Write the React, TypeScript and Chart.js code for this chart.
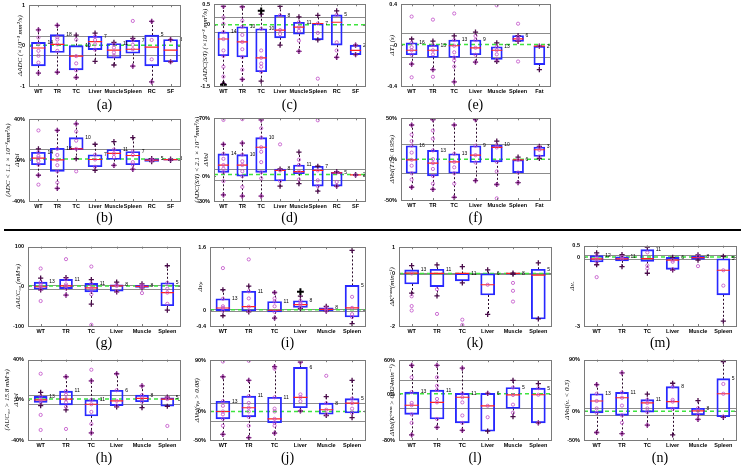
import React, { useEffect, useRef } from "react";
import { Chart, registerables } from "chart.js";
Chart.register(...registerables);

// ---------- categories ----------
const cats8 = ["WT", "TR", "TC", "Liver", "Muscle", "Spleen", "RC", "SF"];
const cats7 = ["WT", "TR", "TC", "Liver", "Muscle", "Spleen", "Fat"];
const cats6 = ["WT", "TR", "TC", "Liver", "Muscle", "Spleen"];

// ---------- data: box rows are [low whisker, q1, median, q3, high whisker] ----------
const aBox = [[-0.68, -0.5, -0.06, 0.08, 0.39], [-0.66, -0.17, 0.03, 0.27, 0.5], [-0.79, -0.6, -0.26, 0.0, 0.26], [-0.39, -0.1, 0.1, 0.23, 0.31], [-0.48, -0.31, -0.11, 0.05, 0.08], [-0.51, -0.19, -0.09, 0.13, 0.18], [-0.9, -0.5, -0.04, 0.26, 0.6], [-0.4, -0.4, -0.11, 0.15, 0.15]];
const aN = [14, 18, 10, 7, 11, 7, 5, 3];
const aPts = [[0.39, 0.2, 0.03, -0.13, -0.25, -0.42, -0.68], [0.5, 0.21, 0.15, 0.03, -0.13, -0.66], [0.15, -0.26, -0.44, -0.61, -0.79], [0.23, 0.14, 0.03, -0.1], [0.03, -0.05, -0.17, -0.25], [0.61, 0.13, 0.02, -0.09, -0.51], [0.6, 0.14, -0.34, -0.9], [0.15, -0.4]];

const bBox = [[-14.8, -4.5, 2, 7.7, 11], [-27.7, -11, 0.3, 11.6, 29], [1.3, 10.3, 11, 22, 35.5], [-10, -6.5, 0.6, 5.2, 15.5], [-5.2, 0.6, 6.5, 10.3, 18], [-9, -4.5, 4.5, 8.4, 22], [-1.5, -1.3, 0, 1.3, 1.5], [-0.3, 0, 0.5, 1, 1]];
const bN = [14, 18, 10, 7, 11, 7, 5, 3];
const bPts = [[29, 7.7, 4, 2, -1, -4.5, -14.8, -24], [29, 11, 5, 0.3, -5, -11, -22, -27.7], [35.5, 28, 19, 11, -11], [5.2, 0.6, -6.5], [10.3, 6.5, 3, -5.2], [8.4, 5, -2, -4.5, -9], [0.5, -0.5], [0.3]];

const cBox = [[-1.44, -0.76, -0.35, -0.18, 0.45], [-1.34, -0.79, -0.42, -0.05, 0.44], [-1.38, -1.15, -0.81, -0.1, 0.26], [-0.5, -0.32, -0.13, 0.23, 0.45], [-0.65, -0.23, -0.06, 0.06, 0.19], [-0.37, -0.37, 0.03, 0.03, 0.23], [-0.8, -0.5, 0.06, 0.24, 0.34], [-0.73, -0.73, -0.63, -0.5, -0.5]];
const cN = [14, 10, 10, 8, 11, 7, 5, 2];
const cPts = [[0.45, 0.18, 0.02, -0.18, -0.35, -0.63, -0.76, -1.03, -1.27, -1.44], [0.44, 0.1, -0.05, -0.25, -0.42, -0.6, -0.79, -1.1, -1.34], [-0.1, -0.63, -0.81, -0.95, -1.03, -1.15], [0.23, -0.13, -0.23], [0.06, -0.06, -0.15, -0.39, -0.65], [0.03, -0.2, -1.32], [0.24, -0.43, -0.63, -0.8], [-0.5, -0.73]];
const cOut = [[-1.47], [], [0.34], [], [], [], [], []];

const dBox = [[-22.7, 4.7, 13.5, 27, 38.5], [-24, 0, 13.5, 26, 40], [-24, 4.7, 35, 46.6, 68], [-12, -5.8, 7, 8.7, 8.7], [-9, 3, 5.5, 13.5, 29], [-18, -12, 7, 12, 12], [-12, -12, 3.9, 4.7, 5.5], [1.5, 1.5, 1.5, 1.5, 1.5]];
const dN = [14, 10, 10, 8, 11, 7, 5, 2];
const dPts = [[68, 38.5, 27, 21, 13.5, 9, 4.7, -6, -22.7], [69, 40, 26, 18, 13.5, 6, 0, -13, -24], [68, 58, 46.6, 35, 29.5, 17, 4.7, -2.6, -24], [38.5, 7, -5.8], [20, 13.5, 5.5, -4], [67.6, 7, -5, -12], [4.7, -7, -12], [1.5]];

const eBox = [[-0.185, -0.094, -0.05, 0.023, 0.06], [-0.24, -0.12, -0.05, 0, 0.04], [-0.36, -0.12, -0.006, 0.05, 0.09], [-0.166, -0.094, -0.026, 0.05, 0.127], [-0.16, -0.14, -0.05, -0.016, 0.023], [0.036, 0.036, 0.062, 0.094, 0.094], [-0.24, -0.19, -0.01, -0.01, -0.01]];
const eN = [16, 13, 13, 9, 13, 6, 2];
const ePts = [[0.28, 0.023, -0.02, -0.05, -0.094, -0.185, -0.315], [0.25, 0, -0.05, -0.09, -0.24, -0.31], [0.31, 0.05, -0.006, -0.07, -0.12, -0.15, -0.21, -0.36], [0.09, 0.05, -0.026, -0.094, -0.166], [0.39, -0.016, -0.05, -0.09, -0.14], [0.21, 0.08, 0.062, 0.045, -0.16], [-0.01]];

const fBox = [[-34.4, -17.2, -0.8, 16.4, 41.8], [-36.9, -20.5, -4.9, 10.7, 48.4], [-46.7, -17.2, -3.3, 6.6, 41.8], [-26.2, -4.1, 4.9, 16.4, 48.4], [-31, -3.3, 14.3, 17.2, 22], [-28.7, -16.4, -0.8, -0.8, 2.5], [0.8, 3.3, 11.5, 14.8, 15.6]];
const fN = [16, 13, 13, 9, 10, 6, 3];
const fPts = [[41.8, 30, 22, 16.4, 8, -0.8, -8, -17.2, -25, -34.4], [48.4, 35, 25, 10.7, 0, -4.9, -12, -20.5, -30, -36.9], [41.8, 6.6, -3.3, -10, -17.2, -30, -46.7], [48.4, 16.4, 4.9, -4.1, -26.2], [17.2, 14.3, -3.3, -15, -31, -48], [-0.8, -16.4, -28.7], [14.8, 11.5, 3.3]];

const gBox = [[-9, -7.4, -1, 10.7, 20.7], [-22, -5.8, 1, 17.4, 22], [-45, -14, -4, 7.4, 17], [-14, -12.4, 1, 4, 10.7], [-4, -2.5, 0, 2.5, 6], [-60, -48.8, -15.7, 9, 52]];
const gN = [13, 11, 11, 8, 8, 5];
const gPts = [[45, 10.7, 3, -1, -7.4, -37], [68.6, 17.4, 5, 1, -5.8, -22], [50, 7.4, -4, -10, -20, -97], [4, 1, -12.4], [2.5, 0, -2.5, -17], [9, -6, -15.7, -44]];

const hBox = [[-5.7, -2.5, 0, 3.4, 7.4], [-10, -5, 0.8, 8.7, 23], [-33, -16, -4.4, 0, 19], [-7, -5.7, -1, 9.6, 26], [-7.7, -1.8, 1.5, 4.7, 14], [-6.4, -6.4, 0.8, 2, 2.8]];
const hN = [13, 11, 11, 6, 8, 5];
const hPts = [[26, 3.4, 0, -2.5, -15, -30], [23, 8.7, 5, 0.8, -2.5, -7, -29], [30, 19, 0, -4.4, -12, -24, -33], [26, 9.6, -1, -5.7], [14, 4.7, 1.5, -1.8], [2, 0.8, -26]];

const iBox = [[-0.14, -0.01, 0.057, 0.29, 0.52], [-0.04, -0.02, 0.09, 0.48, 0.61], [-0.2, -0.04, 0, 0.22, 0.45], [0.04, 0.07, 0.14, 0.24, 0.36], [-0.02, -0.02, 0.02, 0.06, 0.1], [-0.34, -0.17, 0.06, 0.63, 1.52]];
const iN = [13, 11, 11, 8, 8, 5];
const iPts = [[1.07, 0.29, 0.1, 0.057, -0.01], [1.29, 0.48, 0.3, 0.09, -0.02], [0.45, 0.3, 0.22, 0.1, -0.04, -0.2], [0.24, 0.18, 0.14, 0.07], [0.06, 0.02, -0.02], [0.34, 0.06, -0.1, -0.17]];
const iOut = [[], [], [], [0.47], [], []];

const jBox = [[-40, -12.9, 0, 18, 61], [-46, -9.4, 6.6, 27, 54.6], [-38, -19.7, -12.9, 24.9, 78.6], [0.9, 6.6, 24.9, 77.4, 86.6], [-7, -4.9, 3.1, 14.6, 26], [-10.6, -2.6, 14.6, 22.6, 54.6]];
const jN = [13, 11, 11, 6, 8, 5];
const jPts = [[87.7, 61, 18, 10, 0, -5, -12.9, -25, -40], [89, 54.6, 27, 15, 6.6, 0, -9.4, -25, -46], [78.6, 75, 24.9, 5, 0, -12.9, -19.7, -25, -38], [86.6, 30, 24.9, 18, 0.9], [62.6, 14.6, 3.1, -4.9], [22.6, 14.6, 5, -2.6]];

const kBox = [[-0.75, -0.4, 0.01, 0.135, 0.3], [-0.85, -0.5, 0, 0.16, 0.33], [-0.36, -0.28, 0, 0, 0.26], [-1.56, -0.82, -0.43, -0.01, 0.135], [-0.03, -0.03, 0, 0.01, 0.01], [-1.73, -1.73, -0.06, 0.16, 0.4]];
const kN = [13, 11, 11, 6, 8, 5];
const kPts = [[0, -0.87, -1.24, -1.41], [-0.6, -1.54], [-1.76, -1.96], [-0.43], [-0.36, -0.66, -1.07], []];

const lBox = [[-71, -35, -19, 4, 51], [-58, -43, -14, 7.4, 51], [-63, -50, -5, 1.7, 46], [-64.6, -64.6, -20, 1.7, 1.7], [-39, -24.6, -1, 12, 24.6], [-50, -50, -0.6, 10.9, 18.9]];
const lN = [13, 11, 11, 6, 5, 5];
const lPts = [[51, 30, 4, -15, -19, -35, -50, -71], [51, 30, 15, 7.4, -8, -14, -43, -58], [46, 1.7, -5, -14, -37, -50, -63], [1.7, -20, -40], [12, -1, -18, -32], [10.9, -0.6, -50]];

const mBox = [[-0.33, -0.21, -0.07, 0.07, 0.19], [-0.41, -0.16, -0.07, 0.01, 0.11], [-0.7, -0.19, -0.06, 0.33, 0.44], [-0.56, -0.53, -0.13, -0.01, -0.01], [-0.13, -0.1, -0.02, 0.04, 0.1], [-2.79, -1.64, -0.57, -0.07, 0.04]];
const mN = [12, 11, 11, 6, 8, 5];
const mPts = [[0.07, -0.07, -0.21, -0.87], [0.01, -0.07], [0.21, -0.36, -0.5], [-0.13, -0.2, -0.53], [0.04, -0.39], [-0.57, -1.24]];

const nBox = [[-36.9, -2.6, 18, 30.6, 46.6], [-39, -7, 23.7, 32.9, 67], [-24, -1.4, 14.6, 20.3, 30], [-41, 4.3, 16.9, 43, 48.9], [-14, -6, 0.9, 5.4, 18.6], [-10.6, -9.4, 30.6, 56.9, 86.6]];
const nN = [13, 11, 11, 8, 8, 5];
const nPts = [[46.6, 30.6, 18, 5, -2.6, -36.9], [67, 32.9, 23.7, 10, -7, -20, -39], [20.3, 14.6, 5, -1.4, -24], [43, 20, 16.9, 4.3], [5.4, 0.9, -6, -14], [47.7, 30.6, -9.4]];

// ---------- y-axis ticks ----------
const ticksA = [-1, 0, 1];
const ticksB = [-40, 0, 40];
const ticksC = [-1.5, 0, 0.5];
const ticksD = [-30, 0, 70];
const ticksE = [-0.4, 0, 0.4];
const ticksF = [-50, 0, 50];
const ticksG = [-100, 0, 100];
const ticksH = [-40, 0, 40];
const ticksI = [-0.4, 0, 1.6];
const ticksJ = [-50, 0, 90];
const ticksK = [-2, 0, 1];
const ticksL = [-80, 0, 60];
const ticksM = [-3, 0, 0.5];
const ticksN = [-50, 0, 90];

// reference lines [gray1, gray2], green
const refA = [0.24, -0.23], grnA = 0.01;
const refB = [11, -8.4], grnB = 1;
const refC = [0.18, -0.18], grnC = 0;
const refD = [8.7, -5], grnD = 2;
const refE = [0.12, -0.12], grnE = 0.006;
const refF = [18.8, -16.4], grnF = 0;
const refG = [4, -6], grnG = 1;
const refH = [4.7, -3.8], grnH = 0.8;
const refI = [0.04, -0.025], grnI = 0.01;
const refJ = [15.7, -16.3], grnJ = 0;
const refK = [0, -0.03], grnK = 0;
const refL = [24.6, -23.4], grnL = 1;
const refM = [0.1, -0.1], grnM = 0.01;
const refN = [6.6, -6], grnN = 0;

type Panel = {
  cats: string[]; box: number[][]; n: number[]; pts: number[][]; out?: number[][];
  ticks: number[]; pct?: boolean; ref: number[]; grn: number;
  title: string[]; titleX: number; L: number; T: number; R: number; B: number; bw: number;
  cap: string; capY: number;
};

const panels: Panel[] = [
  { cats: cats8, box: aBox, n: aN, pts: aPts, ticks: ticksA, ref: refA, grn: grnA, title: ["ΔADC (×10⁻³ mm²/s)"], titleX: 20, L: 29, T: 3, R: 180, B: 86, bw: 14, cap: "(a)", capY: 105 },
  { cats: cats8, box: bBox, n: bN, pts: bPts, ticks: ticksB, pct: true, ref: refB, grn: grnB, title: ["(ADC < 1.1 × 10⁻³mm²/s)", "ΔVol"], titleX: 8.5, L: 29, T: 117, R: 180, B: 201, bw: 14, cap: "(b)", capY: 218 },
  { cats: cats8, box: cBox, n: cN, pts: cPts, out: cOut, ticks: ticksC, ref: refC, grn: grnC, title: ["ΔADC(S/I) (×10⁻³ mm²/s)"], titleX: 205, L: 214, T: 3, R: 365, B: 86, bw: 11, cap: "(c)", capY: 105 },
  { cats: cats8, box: dBox, n: dN, pts: dPts, ticks: ticksD, pct: true, ref: refD, grn: grnD, title: ["(ADC(S/I) < 2.1 × 10⁻³mm²/s)", "ΔVol"], titleX: 197.5, L: 214, T: 117, R: 365, B: 201, bw: 11, cap: "(d)", capY: 218 },
  { cats: cats7, box: eBox, n: eN, pts: ePts, ticks: ticksE, ref: refE, grn: grnE, title: ["ΔT1 (s)"], titleX: 392, L: 401, T: 3, R: 550, B: 86, bw: 11, cap: "(e)", capY: 105 },
  { cats: cats7, box: fBox, n: fN, pts: fPts, ticks: ticksF, pct: true, ref: refF, grn: grnF, title: ["ΔVol(T1 < 0.95s)"], titleX: 392, L: 401, T: 117, R: 550, B: 200, bw: 11, cap: "(f)", capY: 218 },
  { cats: cats6, box: gBox, n: gN, pts: gPts, ticks: ticksG, ref: refG, grn: grnG, title: ["ΔAUC₆₀ (mM·s)"], titleX: 18, L: 28, T: 245, R: 180, B: 326, bw: 13, cap: "(g)", capY: 343 },
  { cats: cats6, box: hBox, n: hN, pts: hPts, ticks: ticksH, pct: true, ref: refH, grn: grnH, title: ["(AUC₆₀ > 15.8 mM·s)", "ΔVol"], titleX: 7.5, L: 28, T: 358, R: 180, B: 440, bw: 13, cap: "(h)", capY: 458 },
  { cats: cats6, box: iBox, n: iN, pts: iPts, out: iOut, ticks: ticksI, ref: refI, grn: grnI, title: ["Δvₚ"], titleX: 200, L: 210, T: 245, R: 365, B: 326, bw: 14, cap: "(i)", capY: 343 },
  { cats: cats6, box: jBox, n: jN, pts: jPts, ticks: ticksJ, pct: true, ref: refJ, grn: grnJ, title: ["ΔVol(vₚ > 0.08)"], titleX: 197, L: 210, T: 358, R: 365, B: 440, bw: 14, cap: "(j)", capY: 458 },
  { cats: cats6, box: kBox, n: kN, pts: kPts, ticks: ticksK, ref: refK, grn: grnK, title: ["ΔKᵗʳᵃⁿˢ(min⁻¹)"], titleX: 392, L: 399, T: 245, R: 551, B: 326, bw: 14, cap: "(k)", capY: 343 },
  { cats: cats6, box: lBox, n: lN, pts: lPts, ticks: ticksL, pct: true, ref: refL, grn: grnL, title: ["ΔVol(Kᵗʳᵃⁿˢ > 0.024min⁻¹)"], titleX: 392, L: 399, T: 358, R: 551, B: 440, bw: 14, cap: "(l)", capY: 458 },
  { cats: cats6, box: mBox, n: mN, pts: mPts, ticks: ticksM, ref: refM, grn: grnM, title: ["Δvₑ"], titleX: 572, L: 584, T: 244, R: 736, B: 326, bw: 13, cap: "(m)", capY: 343 },
  { cats: cats6, box: nBox, n: nN, pts: nPts, ticks: ticksN, pct: true, ref: refN, grn: grnN, title: ["ΔVol(vₑ < 0.3)"], titleX: 567, L: 584, T: 358, R: 736, B: 440, bw: 13, cap: "(n)", capY: 458 },
];

const YW = 34, PT = 6, PR = 14, XH = 12;
const TITLE_SIZE = 7;

function geom(p: Panel) {
  const left = p.L - YW;
  const top = p.T - PT;
  const w = YW + (p.R - p.L) + PR;
  const h = PT + (p.B - p.T) + XH;
  return { left, top, w, h };
}

function BoxPanel({ p }: { p: Panel }) {
  const ref = useRef<HTMLCanvasElement | null>(null);
  const g = geom(p);
  useEffect(() => {
    const cats = p.cats;
    const circles: any[] = [];
    p.pts.forEach((arr, i) => arr.forEach((v) => circles.push({ x: cats[i], y: v })));
    const meds = p.box.map((b, i) => ({ x: cats[i], y: b[2] }));
    const caps: any[] = [];
    p.box.forEach((b, i) => { caps.push({ x: cats[i], y: b[0] }); caps.push({ x: cats[i], y: b[4] }); });
    const outs: any[] = [];
    (p.out || []).forEach((arr, i) => arr.forEach((v) => outs.push({ x: cats[i], y: v })));
    const lh = TITLE_SIZE * 1.2;
    const titlePad = p.titleX - g.left - lh / 2;
    const lo = p.ticks[0], hi = p.ticks[p.ticks.length - 1];

    const plugin = {
      id: "boxExtras",
      beforeDatasetsDraw(chart: any) {
        const { ctx, chartArea: a, scales } = chart;
        const x = scales.x, y = scales.y;
        ctx.save();
        ctx.strokeStyle = "#8c8c8c";
        ctx.lineWidth = 1;
        p.ref.forEach((v) => {
          const yy = Math.round(y.getPixelForValue(v)) + 0.5;
          ctx.beginPath(); ctx.moveTo(a.left, yy); ctx.lineTo(a.right, yy); ctx.stroke();
        });
        ctx.setLineDash([4, 3]);
        ctx.strokeStyle = "#3ee43e";
        ctx.lineWidth = 1.5;
        const gy = y.getPixelForValue(p.grn);
        ctx.beginPath(); ctx.moveTo(a.left, gy); ctx.lineTo(a.right, gy); ctx.stroke();
        ctx.setLineDash([2, 2]);
        ctx.strokeStyle = "#2a0a2a";
        ctx.lineWidth = 1;
        p.box.forEach((b, i) => {
          const xx = Math.round(x.getPixelForValue(i)) + 0.5;
          ctx.beginPath();
          ctx.moveTo(xx, y.getPixelForValue(b[3])); ctx.lineTo(xx, y.getPixelForValue(b[4]));
          ctx.moveTo(xx, y.getPixelForValue(b[1])); ctx.lineTo(xx, y.getPixelForValue(b[0]));
          ctx.stroke();
        });
        ctx.restore();
      },
      afterDatasetsDraw(chart: any) {
        const { ctx, scales } = chart;
        const x = scales.x, y = scales.y;
        ctx.save();
        ctx.fillStyle = "#000";
        ctx.font = "5px 'Liberation Sans', Arial, sans-serif";
        ctx.textBaseline = "middle";
        ctx.textAlign = "left";
        p.box.forEach((b, i) => {
          ctx.fillText(String(p.n[i]), x.getPixelForValue(i) + p.bw / 2 + 2, y.getPixelForValue(b[3]));
        });
        ctx.restore();
      },
      afterDraw(chart: any) {
        const { ctx, chartArea: a, scales } = chart;
        const x = scales.x, y = scales.y;
        ctx.save();
        ctx.strokeStyle = "#7a7a7a";
        ctx.lineWidth = 1;
        ctx.strokeRect(Math.round(a.left) + 0.5, Math.round(a.top) + 0.5, Math.round(a.right - a.left), Math.round(a.bottom - a.top));
        ctx.beginPath();
        p.cats.forEach((_, i) => {
          const xx = Math.round(x.getPixelForValue(i)) + 0.5;
          ctx.moveTo(xx, a.bottom); ctx.lineTo(xx, a.bottom - 2);
          ctx.moveTo(xx, a.top); ctx.lineTo(xx, a.top + 2);
        });
        p.ticks.forEach((v) => {
          const yy = Math.round(y.getPixelForValue(v)) + 0.5;
          ctx.moveTo(a.left, yy); ctx.lineTo(a.left + 2, yy);
          ctx.moveTo(a.right, yy); ctx.lineTo(a.right - 2, yy);
        });
        ctx.stroke();
        ctx.restore();
      },
    };

    const chart = new Chart(ref.current as HTMLCanvasElement, {
      type: "bar",
      data: {
        labels: cats,
        datasets: [
          {
            type: "scatter", data: circles, pointStyle: "circle", pointRadius: 1.6,
            borderColor: "#c04cc8", backgroundColor: "rgba(0,0,0,0)", borderWidth: 0.8, order: 1,
          } as any,
          {
            type: "scatter", data: caps, pointStyle: "cross", pointRadius: 2.6,
            borderColor: "#4a0c4a", borderWidth: 1.3, order: 2,
          } as any,
          {
            type: "scatter", data: outs, pointStyle: "cross", pointRadius: 3.4,
            borderColor: "#000", borderWidth: 2, order: 0,
          } as any,
          {
            type: "scatter", data: meds, pointStyle: "line", pointRadius: p.bw / 2,
            borderColor: "#ff2020", borderWidth: 1.2, order: 3,
          } as any,
          {
            type: "bar", data: p.box.map((b) => [b[1], b[3]]), backgroundColor: "rgba(0,0,0,0)",
            borderColor: "#2828ff", borderWidth: 1.2, borderSkipped: false, barThickness: p.bw, order: 4,
          } as any,
        ],
      },
      options: {
        animation: false,
        responsive: false,
        devicePixelRatio: 1,
        layout: { padding: { left: 0, top: PT, right: PR, bottom: 0 } },
        plugins: { legend: { display: false }, tooltip: { enabled: false } },
        scales: {
          x: {
            type: "category", offset: true,
            grid: { display: false, drawTicks: false }, border: { display: false },
            ticks: { font: { size: 5.5, weight: "bold", family: "'Liberation Sans', Arial, sans-serif" }, color: "#000", padding: 2, maxRotation: 0, autoSkip: false },
            afterFit: (s: any) => { s.height = XH; },
          },
          y: {
            type: "linear", min: lo, max: hi,
            grid: { display: false, drawTicks: false }, border: { display: false },
            afterBuildTicks: (s: any) => { s.ticks = p.ticks.map((v) => ({ value: v })); },
            ticks: {
              font: { size: 5.5, weight: "bold", family: "'Liberation Sans', Arial, sans-serif" }, color: "#000", padding: 4,
              callback: (v: any) => (p.pct ? `${v}%` : `${v}`),
            },
            title: {
              display: true, text: p.title, color: "#000",
              font: { size: TITLE_SIZE, style: "italic", family: "'Liberation Serif', 'DejaVu Serif', serif", lineHeight: 1.2 },
              padding: { top: titlePad, bottom: 0 },
            },
            afterFit: (s: any) => { s.width = YW; },
          },
        },
      } as any,
      plugins: [plugin as any],
    });
    return () => chart.destroy();
  }, []);
  const cx = (p.L + p.R) / 2;
  return (
    <>
      <canvas ref={ref} width={g.w} height={g.h}
        style={{ position: "absolute", left: g.left, top: g.top, width: g.w, height: g.h }} />
      <div style={{
        position: "absolute", left: cx - 30, width: 60, top: p.capY - 9, height: 18, textAlign: "center",
        fontFamily: "'Liberation Serif', 'DejaVu Serif', serif", fontSize: 14, lineHeight: "18px", color: "#000",
      }}>{p.cap}</div>
    </>
  );
}

export default function App() {
  return (
    <div style={{ position: "absolute", left: 0, top: 0, width: 745, height: 465, background: "#fff", overflow: "hidden" }}>
      {panels.map((p, i) => <BoxPanel key={i} p={p} />)}
      <div style={{ position: "absolute", left: 4, top: 229, width: 737, height: 2, background: "#000" }} />
    </div>
  );
}
